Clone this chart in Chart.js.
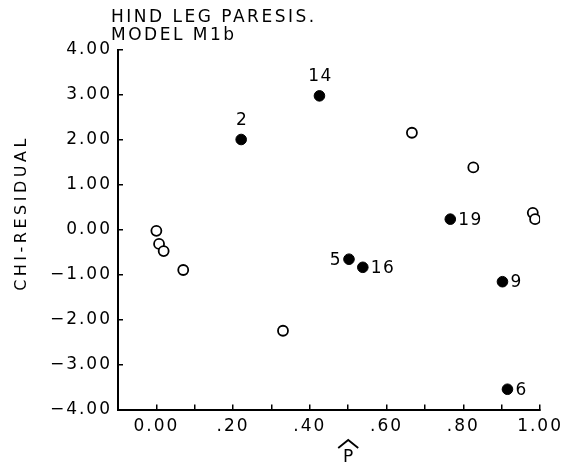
<!DOCTYPE html>
<html>
<head>
<meta charset="utf-8">
<title>Hind leg paresis - model M1b</title>
<script src="https://cdn.jsdelivr.net/npm/chart.js@4.4.1/dist/chart.umd.min.js"></script>
<style>
    body { margin: 0; background: #fff; }
    canvas { display: block; }
</style>
</head>
<body>
<canvas id="residualChart" width="571" height="467"></canvas>
<script>
const titleLines = ["HIND LEG PARESIS.", "MODEL M1b"];
const yAxisTitle = "CHI-RESIDUAL";
const xAxisTitle = "P";

// labelled (filled) covariate patterns
const filledIds = ["2", "14", "5", "16", "19", "9", "6"];
const filledP = [0.221, 0.425, 0.502, 0.538, 0.766, 0.902, 0.915];
const filledResid = [2.00, 2.97, -0.66, -0.84, 0.23, -1.16, -3.55];

// unlabelled (open) covariate patterns
const openP = [0.00, 0.007, 0.019, 0.07, 0.33, 0.666, 0.826, 0.981, 0.987];
const openResid = [-0.03, -0.32, -0.48, -0.90, -2.25, 2.15, 1.38, 0.37, 0.23];

const xTickLabels = ["0.00", ".20", ".40", ".60", ".80", "1.00"];
const yTickLabels = ["\u22124.00", "\u22123.00", "\u22122.00", "\u22121.00", "0.00", "1.00", "2.00", "3.00", "4.00"];

const labelSide = { "2": "above", "14": "above", "5": "left" };

function toPoints(xs, ys) {
    return xs.map((x, i) => ({ x: x, y: ys[i] }));
}

const textPlugin = {
    id: "textPlugin",
    beforeDraw(chart) {
        chart.ctx.letterSpacing = "2px";
    },
    afterDraw(chart) {
        const ctx = chart.ctx;
        const xScale = chart.scales.x;
        ctx.save();
        ctx.fillStyle = "#000";
        ctx.strokeStyle = "#000";

        // title
        ctx.font = "17px 'DejaVu Sans'";
        ctx.letterSpacing = "2.5px";
        ctx.textAlign = "left";
        ctx.textBaseline = "middle";
        ctx.fillText(titleLines[0], 111, 18);
        ctx.fillText(titleLines[1], 111, 36);

        // y axis title
        ctx.save();
        ctx.font = "16px 'DejaVu Sans'";
        ctx.letterSpacing = "3.5px";
        ctx.translate(22, 213);
        ctx.rotate(-Math.PI / 2);
        ctx.textAlign = "center";
        ctx.fillText(yAxisTitle, 0, 0);
        ctx.restore();

        // x axis title, P with a hat
        const px = xScale.getPixelForValue(0.5);
        ctx.font = "17px 'DejaVu Sans'";
        ctx.letterSpacing = "0px";
        ctx.textAlign = "center";
        ctx.fillText(xAxisTitle, px, 458);
        ctx.lineWidth = 1.8;
        ctx.beginPath();
        ctx.moveTo(px - 10, 448);
        ctx.lineTo(px, 440);
        ctx.lineTo(px + 10, 448);
        ctx.stroke();

        // point ids
        ctx.font = "17px 'DejaVu Sans'";
        ctx.letterSpacing = "1.5px";
        const meta = chart.getDatasetMeta(1);
        meta.data.forEach((pt, i) => {
            const id = filledIds[i];
            const side = labelSide[id] || "right";
            if (side === "above") {
                ctx.textAlign = "center";
                ctx.fillText(id, pt.x + 1, pt.y - 19);
            } else if (side === "left") {
                ctx.textAlign = "right";
                ctx.fillText(id, pt.x - 7, pt.y + 1);
            } else {
                ctx.textAlign = "left";
                ctx.fillText(id, pt.x + 8, pt.y + 1);
            }
        });
        ctx.restore();
    }
};

const ctx = document.getElementById("residualChart").getContext("2d");
const chart = new Chart(ctx, {
    type: "scatter",
    data: {
        datasets: [
            {
                label: "open",
                data: toPoints(openP, openResid),
                pointRadius: 5,
                pointBackgroundColor: "#fff",
                pointBorderColor: "#000",
                pointBorderWidth: 1.8
            },
            {
                label: "filled",
                data: toPoints(filledP, filledResid),
                pointRadius: 5.3,
                pointBackgroundColor: "#000",
                pointBorderColor: "#000",
                pointBorderWidth: 1
            }
        ]
    },
    options: {
        responsive: false,
        animation: false,
        devicePixelRatio: 1,
        layout: {
            padding: { top: 49.5, right: 22.7, left: 0, bottom: 0 }
        },
        plugins: {
            legend: { display: false },
            tooltip: { enabled: false }
        },
        scales: {
            x: {
                type: "linear",
                min: -0.1,
                max: 1.0,
                afterFit: scale => { scale.height = 57.5; },
                border: { display: true, color: "#000", width: 2 },
                grid: {
                    drawOnChartArea: false,
                    drawTicks: true,
                    tickLength: -5,
                    color: "#000",
                    lineWidth: 1.5
                },
                ticks: {
                    stepSize: 0.1,
                    autoSkip: false,
                    maxRotation: 0,
                    padding: 12,
                    color: "#000",
                    font: { family: "'DejaVu Sans'", size: 17 },
                    callback: value => {
                        const tenth = Math.round(value * 10);
                        if (tenth >= 0 && tenth % 2 === 0) {
                            return xTickLabels[tenth / 2];
                        }
                        return "";
                    }
                }
            },
            y: {
                type: "linear",
                min: -4,
                max: 4,
                afterFit: scale => { scale.width = 118; },
                border: { display: true, color: "#000", width: 2 },
                grid: {
                    drawOnChartArea: false,
                    drawTicks: true,
                    tickLength: -5,
                    color: "#000",
                    lineWidth: 1.5
                },
                ticks: {
                    stepSize: 1,
                    autoSkip: false,
                    padding: 11,
                    color: "#000",
                    font: { family: "'DejaVu Sans'", size: 17 },
                    callback: value => yTickLabels[Math.round(value) + 4]
                }
            }
        }
    },
    plugins: [textPlugin]
});
</script>
</body>
</html>
